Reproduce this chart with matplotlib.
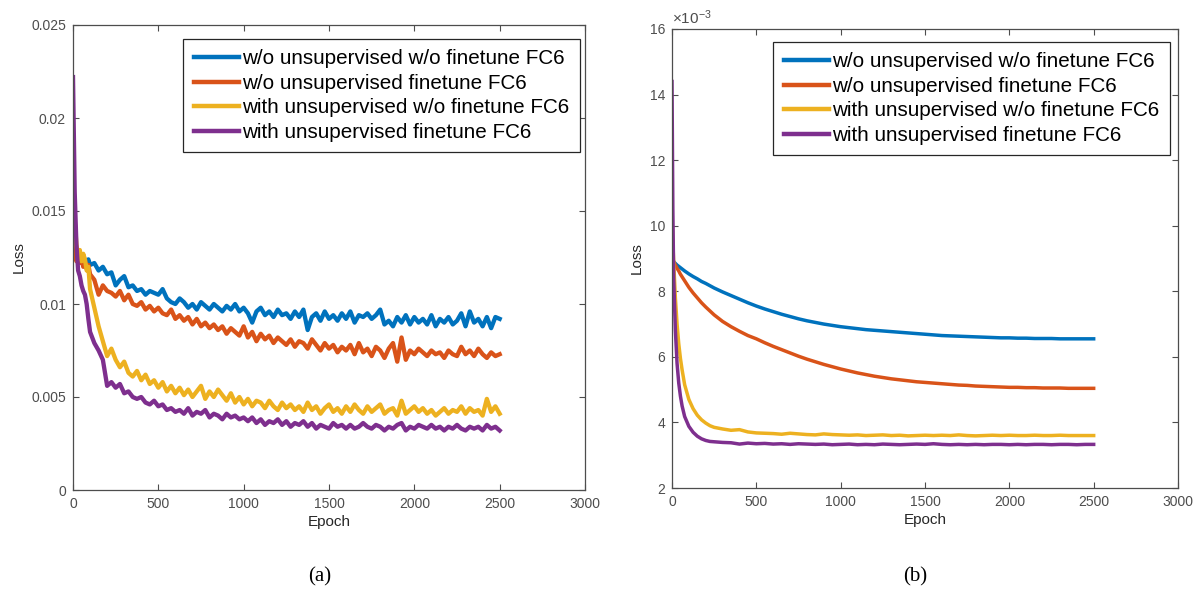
import matplotlib
matplotlib.use("Agg")
import matplotlib.pyplot as plt
import numpy as np

plt.rcParams['font.family'] = ['Liberation Sans', 'DejaVu Sans']
plt.rcParams['mathtext.fontset'] = 'custom'
plt.rcParams['mathtext.rm'] = 'Liberation Sans'
plt.rcParams['mathtext.it'] = 'Liberation Sans'

labels = ["w/o unsupervised w/o finetune FC6",
          "w/o unsupervised finetune FC6",
          "with unsupervised w/o finetune FC6",
          "with unsupervised finetune FC6"]
colors = ["#0072BD", "#D95319", "#EDB120", "#7E2F8E"]

# ---------------- (a) noisy training loss, values in units of 1e-3 ----------------
epochs_a = [0, 10, 20, 30, 40, 50, 60, 70, 80, 90, 100] + list(range(125, 2501, 25))

a_blue = [14.5, 13.6, 12.8, 12.5, 12.6, 12.3, 12.5, 12.4, 12.2, 12.4, 12.1,
          12.2, 11.8, 12.0, 11.6, 11.7, 11.0, 11.3, 11.5, 10.9, 11.0,
          10.7, 10.8, 10.5, 10.7, 10.6, 10.5, 10.8, 10.3, 10.1, 10.0,
          10.3, 10.1, 9.8, 10.0, 9.7, 10.1, 9.9, 9.7, 10.0, 9.8,
          9.6, 9.9, 9.7, 10.0, 9.6, 9.8, 9.5, 9.0, 9.6, 9.8,
          9.4, 9.6, 9.3, 9.7, 9.4, 9.5, 9.2, 9.6, 9.3, 9.7,
          8.6, 9.3, 9.5, 9.1, 9.6, 9.2, 9.4, 9.1, 9.5, 9.2,
          9.6, 9.0, 9.4, 9.3, 9.5, 9.2, 9.4, 9.7, 8.9, 9.1,
          8.8, 9.3, 9.0, 9.4, 8.9, 9.3, 9.0, 9.2, 8.9, 9.4,
          8.8, 9.2, 9.0, 9.3, 8.9, 9.1, 9.5, 8.8, 9.6, 9.0,
          9.2, 8.8, 9.3, 8.7, 9.3, 9.2]

a_orange = [13.5, 12.6, 12.3, 12.8, 12.2, 12.5, 12.0, 12.3, 11.9, 12.1, 11.6,
            11.3, 10.5, 11.0, 10.7, 10.6, 10.4, 10.7, 10.2, 10.5, 10.0,
            9.9, 10.1, 9.7, 9.9, 9.6, 9.8, 9.5, 9.4, 9.7, 9.2,
            9.4, 9.1, 9.3, 8.9, 9.2, 8.8, 9.0, 8.7, 8.9, 8.6,
            8.8, 8.4, 8.7, 8.5, 8.3, 8.8, 8.2, 8.5, 8.0, 8.4,
            8.1, 8.3, 7.9, 8.2, 8.0, 7.8, 8.1, 7.7, 8.0, 7.9,
            7.6, 8.1, 7.8, 7.5, 7.9, 7.6, 7.8, 7.4, 7.7, 7.5,
            7.8, 7.3, 7.9, 7.4, 7.6, 7.2, 7.7, 7.5, 7.1, 7.6,
            7.9, 6.9, 8.2, 7.0, 7.5, 7.3, 7.6, 7.4, 7.2, 7.5,
            7.3, 7.4, 7.1, 7.5, 7.3, 7.2, 7.7, 7.3, 7.5, 7.2,
            7.6, 7.3, 7.1, 7.4, 7.2, 7.3]

a_yellow = [17.8, 14.5, 13.2, 12.6, 12.9, 12.3, 12.7, 12.4, 11.8, 12.0, 10.8,
            9.8, 8.8, 8.0, 7.2, 7.6, 7.0, 6.6, 6.9, 6.3, 6.1,
            6.4, 5.9, 6.2, 5.7, 5.9, 5.5, 5.8, 5.3, 5.6, 5.2,
            5.5, 5.1, 5.4, 5.0, 5.3, 5.6, 4.9, 5.3, 5.0, 5.4,
            5.1, 4.8, 5.2, 4.7, 5.0, 4.6, 4.9, 4.5, 4.8, 4.7,
            4.4, 4.8, 4.5, 4.3, 4.7, 4.4, 4.6, 4.3, 4.5, 4.2,
            4.7, 4.3, 4.5, 4.1, 4.4, 4.6, 4.2, 4.4, 4.1, 4.5,
            4.2, 4.6, 4.3, 4.1, 4.5, 4.2, 4.4, 4.6, 4.1, 4.3,
            4.4, 4.0, 4.8, 4.1, 4.3, 4.5, 4.2, 4.4, 4.1, 4.3,
            4.0, 4.2, 4.4, 4.1, 4.3, 4.2, 4.5, 4.1, 4.4, 4.2,
            4.3, 4.0, 4.9, 4.2, 4.5, 4.1]

a_purple = [22.2, 16.0, 13.2, 11.8, 11.5, 11.0, 10.7, 10.5, 10.0, 9.2, 8.5,
            7.9, 7.5, 7.0, 5.6, 5.8, 5.5, 5.7, 5.2, 5.3, 5.0,
            4.9, 5.0, 4.7, 4.6, 4.8, 4.5, 4.6, 4.3, 4.4, 4.2,
            4.3, 4.1, 4.4, 4.0, 4.2, 4.1, 4.3, 3.9, 4.1, 4.0,
            3.8, 4.1, 3.9, 4.0, 3.8, 3.9, 3.7, 3.9, 3.6, 3.8,
            3.5, 3.7, 3.6, 3.8, 3.5, 3.7, 3.4, 3.6, 3.5, 3.7,
            3.4, 3.6, 3.3, 3.5, 3.4, 3.3, 3.6, 3.4, 3.5, 3.3,
            3.5, 3.3, 3.4, 3.6, 3.4, 3.3, 3.5, 3.4, 3.2, 3.4,
            3.3, 3.5, 3.6, 3.2, 3.4, 3.3, 3.5, 3.4, 3.3, 3.5,
            3.3, 3.4, 3.2, 3.4, 3.3, 3.5, 3.3, 3.2, 3.4, 3.3,
            3.4, 3.2, 3.5, 3.3, 3.4, 3.2]

# ---------------- (b) smoothed loss, values in units of 1e-3 ----------------
epochs_b = [0, 5, 10, 20, 30, 40, 50, 60, 75, 100, 125, 150, 175, 200, 225, 250] + list(range(300, 2501, 50))

b_blue = [9.0, 8.95, 8.9, 8.85, 8.8, 8.76, 8.72, 8.68, 8.62, 8.53, 8.45, 8.38, 8.3, 8.24, 8.17, 8.1,
          7.98, 7.87, 7.76, 7.65, 7.55, 7.46, 7.38, 7.3, 7.23, 7.16,
          7.1, 7.05, 7.0, 6.96, 6.92, 6.89, 6.86, 6.83, 6.81, 6.79,
          6.77, 6.75, 6.73, 6.71, 6.69, 6.67, 6.65, 6.64, 6.63, 6.62,
          6.61, 6.6, 6.59, 6.58, 6.58, 6.57, 6.57, 6.56, 6.56, 6.56,
          6.55, 6.55, 6.55, 6.55, 6.55]

b_orange = [9.3, 9.0, 8.9, 8.8, 8.7, 8.62, 8.52, 8.44, 8.32, 8.12, 7.95, 7.8, 7.65, 7.52, 7.4, 7.28,
            7.08, 6.92, 6.78, 6.65, 6.55, 6.43, 6.32, 6.22, 6.12, 6.02,
            5.93, 5.85, 5.77, 5.7, 5.63, 5.57, 5.51, 5.46, 5.41, 5.37,
            5.33, 5.3, 5.27, 5.24, 5.22, 5.2, 5.18, 5.16, 5.14, 5.13,
            5.11, 5.1, 5.09, 5.08, 5.07, 5.07, 5.06, 5.06, 5.05, 5.05,
            5.05, 5.04, 5.04, 5.04, 5.04]

b_yellow = [10.4, 9.5, 8.9, 7.8, 7.0, 6.4, 5.95, 5.6, 5.15, 4.7, 4.42, 4.22, 4.08, 3.98, 3.9, 3.85,
            3.8, 3.76, 3.78, 3.71, 3.68, 3.67, 3.66, 3.64, 3.67, 3.65,
            3.63, 3.62, 3.65, 3.63, 3.62, 3.61, 3.62, 3.6, 3.61, 3.62,
            3.6, 3.61, 3.59, 3.6, 3.61, 3.6, 3.61, 3.6, 3.62, 3.6,
            3.59, 3.6, 3.61, 3.6, 3.61, 3.6, 3.6, 3.61, 3.6, 3.6,
            3.61, 3.6, 3.6, 3.6, 3.6]

b_purple = [14.4, 10.5, 8.4, 6.8, 5.8, 5.2, 4.8, 4.5, 4.18, 3.88, 3.7, 3.58, 3.5, 3.45, 3.42, 3.41,
            3.39, 3.38, 3.34, 3.37, 3.35, 3.36, 3.34, 3.35, 3.33, 3.35,
            3.34, 3.33, 3.34, 3.32, 3.33, 3.34, 3.32, 3.33, 3.32, 3.34,
            3.33, 3.32, 3.33, 3.34, 3.33, 3.35, 3.33, 3.32, 3.33, 3.32,
            3.33, 3.32, 3.33, 3.33, 3.32, 3.33, 3.32, 3.33, 3.33, 3.32,
            3.33, 3.33, 3.32, 3.33, 3.33]

x_ticks = [0, 500, 1000, 1500, 2000, 2500, 3000]
y_ticks_a = [0, 0.005, 0.01, 0.015, 0.02, 0.025]
y_ticklabels_a = ["0", "0.005", "0.01", "0.015", "0.02", "0.025"]
y_ticks_b = [2, 4, 6, 8, 10, 12, 14, 16]

W, H = 1195, 593
fig = plt.figure(figsize=(W / 100, H / 100), dpi=100)

def px_axes(l, t, r, b):
    return fig.add_axes([l / W, 1 - b / H, (r - l) / W, (b - t) / H])

ax1 = px_axes(73, 25, 585, 490)
ax2 = px_axes(672, 29, 1178, 488)

axcol = "#262626"

def style(ax):
    for s in ax.spines.values():
        s.set_color("#4d4d4d")
        s.set_linewidth(0.9)
    ax.tick_params(direction="in", length=4, width=0.8, color="#4d4d4d",
                   labelcolor="#4d4d4d", labelsize=10, top=True, right=True, pad=5)
    ax.set_xlim(0, 3000)
    ax.set_xticks(x_ticks)
    ax.set_xlabel("Epoch", fontsize=11, color=axcol, labelpad=3)
    ax.set_ylabel("Loss", fontsize=11, color=axcol, labelpad=4)

series_a = [a_blue, a_orange, a_yellow, a_purple]
for vals, c, lab in zip(series_a, colors, labels):
    ax1.plot(epochs_a, np.array(vals) / 1000.0, color=c, lw=3.1, label=lab)
style(ax1)
ax1.set_ylim(0, 0.025)
ax1.set_yticks(y_ticks_a)
ax1.set_yticklabels(y_ticklabels_a)

series_b = [b_blue, b_orange, b_yellow, b_purple]
for vals, c, lab in zip(series_b, colors, labels):
    ax2.plot(epochs_b, vals, color=c, lw=2.5, label=lab)
style(ax2)
ax2.set_ylim(2, 16)
ax2.set_yticks(y_ticks_b)
ax2.text(0.0, 1.004, r"$\times10^{-3}$", transform=ax2.transAxes, fontsize=11,
         color="#4d4d4d", ha="left", va="bottom")

for ax, anchor in [(ax1, (0.990, 0.970)), (ax2, (0.984, 0.972))]:
    leg = ax.legend(loc="upper right", bbox_to_anchor=anchor, fontsize=14.9,
                    handlelength=2.2, handletextpad=0.15, labelspacing=0.27,
                    borderpad=0.5, borderaxespad=0, fancybox=False, framealpha=1)
    leg.get_frame().set_edgecolor("#262626")
    leg.get_frame().set_linewidth(0.9)
    for ln in leg.get_lines():
        ln.set_linewidth(3.2)
    for t in leg.get_texts():
        t.set_color("#000000")

fig.text(320 / W, 1 - 577 / H, "(a)", fontsize=15, family="Liberation Serif",
         ha="center", va="center")
fig.text(915 / W, 1 - 577 / H, "(b)", fontsize=15, family="Liberation Serif",
         ha="center", va="center")

fig.savefig("out.png", dpi=100)
